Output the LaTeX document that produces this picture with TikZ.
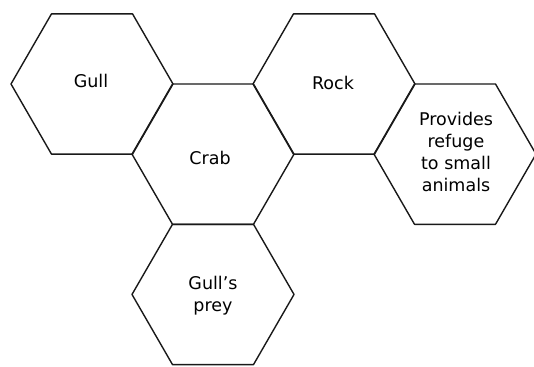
\documentclass[tikz,border=0pt]{standalone}
\usepackage{fontspec}
\setmainfont{DejaVu Sans}
\usetikzlibrary{shapes.geometric}
\begin{document}
\begin{tikzpicture}[x=1pt,y=-1pt,
  hexcell/.style={draw=black!90, line width=1.4pt, line join=round,
    shape=regular polygon, regular polygon sides=6, minimum size=162pt,
    inner sep=0pt},
  cellText/.style={align=center, inner sep=0pt, font=\fontsize{17.5}{22}\selectfont}]
\useasboundingbox (0,0) rectangle (534,366);
\begin{scope}
\clip (0,0) rectangle (534,366);
\node[hexcell] (gull) at (92,84) {};
\node[hexcell] (crab) at (213,154.15) {};
\node[hexcell] (rock) at (334,84) {};
\node[hexcell] (prey) at (213,294.45) {};
\node[hexcell] (refuge) at (455,154.15) {};
\end{scope}
\node[cellText] (gullT) at (91,81) {Gull};
\node[cellText] (crabT) at (210,158) {Crab};
\node[cellText] (rockT) at (333,83) {Rock};
\node[cellText] (preyT) at (213,296) {Gull's\\prey};
\node[cellText] (refugeT) at (456,152) {Provides\\refuge\\to small\\animals};
\end{tikzpicture}
\end{document}
